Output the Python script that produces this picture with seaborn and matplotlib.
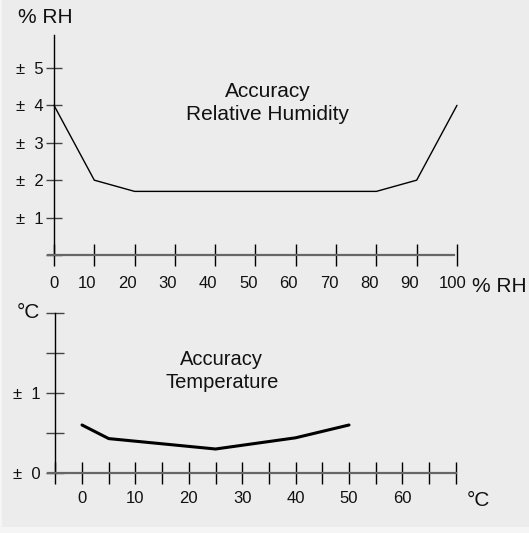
import matplotlib
matplotlib.use("Agg")
import matplotlib.pyplot as plt
import matplotlib.transforms as mtransforms
from matplotlib.patches import Rectangle
import seaborn as sns

# accuracy of relative humidity (% RH) over the humidity range
rh_x = [0, 10, 20, 80, 90, 100]
rh_acc = [4.0, 2.0, 1.7, 1.7, 2.0, 4.0]
rh_xticks = list(range(0, 101, 10))
rh_yticks = [0, 1, 2, 3, 4, 5]
rh_ylabels = ["", "±  1", "±  2", "±  3", "±  4", "±  5"]

# accuracy of temperature (°C) over the temperature range
temp_x = [0, 5, 25, 40, 50]
temp_acc = [0.6, 0.43, 0.3, 0.44, 0.6]
temp_xticks = list(range(-5, 71, 5))
temp_xlabels = [str(v) if (v % 10 == 0 and 0 <= v <= 60) else "" for v in temp_xticks]
temp_yticks = [0, 0.5, 1, 1.5, 2]
temp_ylabels = ["±  0", "", "±  1", "", ""]

sns.set_style("white")
plt.rcParams["font.family"] = ["Liberation Sans", "DejaVu Sans"]

W, H = 529, 533
BG = "#ebeceb"
fig = plt.figure(figsize=(W / 100, H / 100), dpi=100, facecolor="#f4f5f4")
fig.patches.append(Rectangle((2 / W, 6 / H), 1, 1, transform=fig.transFigure,
                             facecolor=BG, edgecolor="none", zorder=-10))


def rect(left, right, top, bottom):
    return [left / W, 1 - bottom / H, (right - left) / W, (bottom - top) / H]


# ---- top chart: relative humidity ----
ax1 = fig.add_axes(rect(41.9, 473.1, 35, 273.7))
ax1.set_facecolor("none")
sns.lineplot(x=rh_x, y=rh_acc, ax=ax1, color="black", linewidth=1.0, sort=False)
ax1.set_xlim(-3, 104)
ax1.set_ylim(-0.5, 5.88)

# ---- bottom chart: temperature ----
ax2 = fig.add_axes(rect(39.3, 482.5, 313, 497))
ax2.set_facecolor("none")
sns.lineplot(x=temp_x, y=temp_acc, ax=ax2, color="black", linewidth=2.2, sort=False)
ax2.set_xlim(-8, 75)
ax2.set_ylim(-0.3, 2.0)

for ax in (ax1, ax2):
    for s in ("top", "right"):
        ax.spines[s].set_visible(False)
    ax.spines["left"].set_color("black")
    ax.spines["left"].set_linewidth(1.0)
    ax.spines["bottom"].set_color("#666666")
    ax.spines["bottom"].set_linewidth(1.6)
    ax.spines["bottom"].set_position(("data", 0))
    ax.set_xlabel("")
    ax.set_ylabel("")

ax1.spines["left"].set_position(("data", 0))
ax1.spines["left"].set_bounds(0, 5.88)
ax1.spines["bottom"].set_bounds(-1.5, 99.3)
ax2.spines["left"].set_position(("data", -5))
ax2.spines["left"].set_bounds(0, 2.0)
ax2.spines["bottom"].set_bounds(-6.3, 70)

ax1.set_xticks(rh_xticks, [str(v) for v in rh_xticks])
ax1.set_yticks(rh_yticks, rh_ylabels)
ax1.tick_params(axis="x", bottom=True, direction="inout", length=16, width=1.0,
                color="black", pad=7, labelsize=12, labelcolor="#111111")
ax1.tick_params(axis="y", left=True, direction="inout", length=11, width=1.0,
                color="#444444", pad=2, labelsize=12, labelcolor="#111111")

ax2.set_xticks(temp_xticks, temp_xlabels)
ax2.set_yticks(temp_yticks, temp_ylabels)
ax2.tick_params(axis="x", bottom=True, direction="inout", length=16, width=1.0,
                color="black", pad=5, labelsize=12, labelcolor="#111111")
ax2.tick_params(axis="y", left=True, direction="inout", length=13, width=1.0,
                color="#444444", pad=4, labelsize=12, labelcolor="#111111")

# top x labels sit a little left of their ticks in the original
for lbl, v in zip(ax1.get_xticklabels(), rh_xticks):
    dx = 0 if v == 0 else (-4 if v == 100 else -7)
    lbl.set_transform(lbl.get_transform()
                      + mtransforms.ScaledTranslation(dx / 100, 0, fig.dpi_scale_trans))

# titles inside the charts
ax1.text(53, 4.23, "Accuracy", ha="center", va="baseline", fontsize=15, color="#111111")
ax1.text(53, 3.61, "Relative Humidity", ha="center", va="baseline", fontsize=15, color="#111111")
ax2.text(26.2, 1.35, "Accuracy", ha="center", va="baseline", fontsize=14.5, color="#111111")
ax2.text(26.2, 1.06, "Temperature", ha="center", va="baseline", fontsize=14.5, color="#111111")

# unit labels
fig.text(18 / W, 1 - 23.3 / H, "% RH", ha="left", va="baseline", fontsize=15, color="#111111")
fig.text(471.7 / W, 1 - 291.7 / H, "% RH", ha="left", va="baseline", fontsize=15, color="#111111")
fig.text(17 / W, 1 - 318.3 / H, "°C", ha="left", va="baseline", fontsize=15, color="#111111")
fig.text(466.7 / W, 1 - 506 / H, "°C", ha="left", va="baseline", fontsize=15, color="#111111")

fig.savefig("out.png", dpi=100, facecolor=fig.get_facecolor())
